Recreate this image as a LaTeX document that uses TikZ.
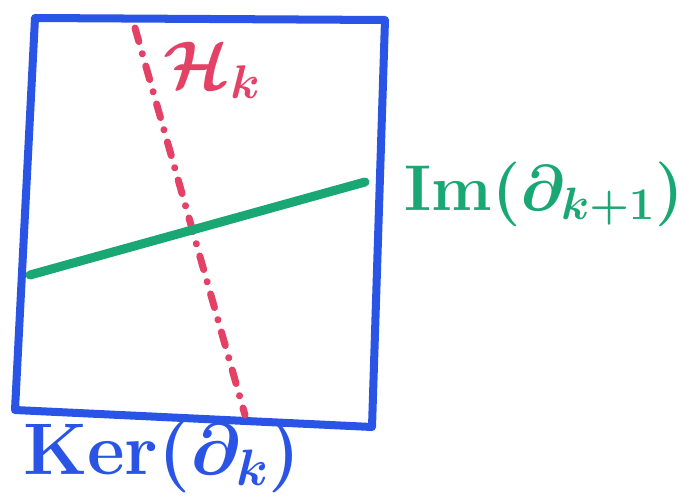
\documentclass[tikz,border=0pt]{standalone}
\usepackage{fix-cm}
\usepackage{amsmath}
\usepackage{tkz-euclide}
\definecolor{KerClr}{rgb}{0.16,0.33,0.90}
\definecolor{HomClr}{rgb}{0.89,0.26,0.40}
\definecolor{ImClr}{rgb}{0.10,0.66,0.45}
\tikzset{
  hklabel/.style={text=HomClr,font=\fontsize{48}{54}\selectfont\boldmath},
  imlabel/.style={text=ImClr,font=\fontsize{46}{52}\selectfont\boldmath},
  kerlabel/.style={text=KerClr,font=\fontsize{52}{60}\selectfont\boldmath}
}

\begin{document}
\begin{tikzpicture}
\useasboundingbox (0,0) rectangle (17.225,12.4);
\tkzSetUpLine[line width=5.7pt,color=KerClr]

\tkzDefPoints{0.875/11.95/A,9.625/11.9/B,9.3/1.725/C,0.375/2.15/D}
\tkzDefPoints{3.375/11.7/P,6.125/2.025/Q}
\tkzDefPoints{0.75/5.525/E,9.125/7.85/F}

\tkzDrawPolygon[line join=round](A,B,C,D)

\tkzDrawSegment[color=HomClr,line width=5pt,line cap=round,dash pattern=on 10pt off 9pt on 0.1pt off 9pt](P,Q)
\tkzDrawSegment[color=ImClr,line width=6.4pt,line cap=round](E,F)

\node[hklabel] (hk) at (5.3,10.65) {$\mathcal{H}_k$};
\node[imlabel] (im) at (13.6,7.55) {$\mathrm{Im}(\partial_{k+1})$};
\node[kerlabel] (ker) at (4.05,1.0) {$\mathrm{Ker}(\partial_k)$};

\end{tikzpicture}
\end{document}
